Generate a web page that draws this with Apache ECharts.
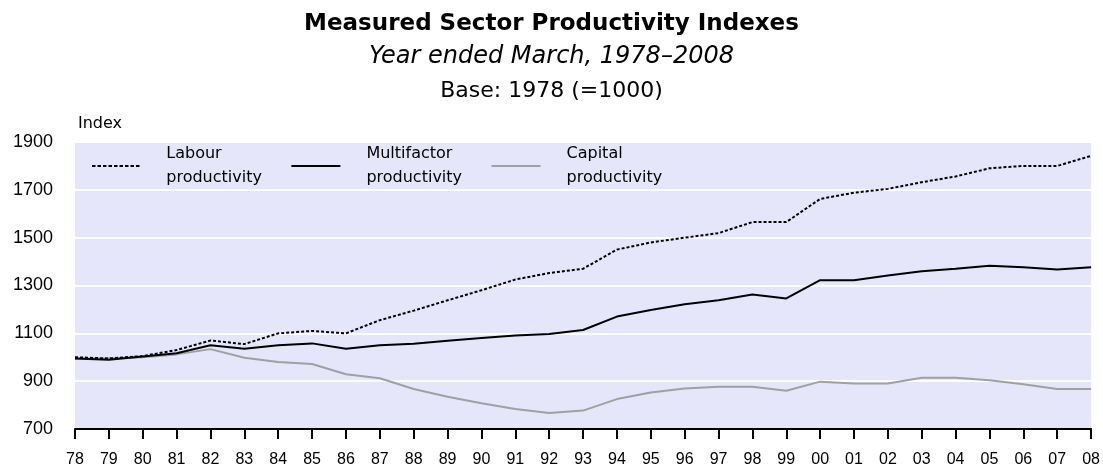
<!DOCTYPE html>
<html>
<head>
<meta charset="utf-8">
<script src="https://cdn.jsdelivr.net/npm/echarts@6/dist/echarts.min.js"></script>
<style>
html,body{margin:0;padding:0;background:#fff;}
#chart{width:1103px;height:468px;}
</style>
</head>
<body>
<div id="chart"></div>
<script>
const years = ['78','79','80','81','82','83','84','85','86','87','88','89','90','91','92','93','94','95','96','97','98','99','00','01','02','03','04','05','06','07','08'];
const labour = [1000,995,1005,1030,1070,1055,1100,1110,1100,1155,1195,1238,1280,1325,1352,1370,1450,1480,1500,1519,1565,1565,1662,1688,1704,1732,1756,1790,1800,1800,1842];
const multifactor = [995,990,1003,1017,1050,1036,1050,1058,1036,1050,1056,1069,1080,1091,1097,1114,1170,1198,1222,1238,1262,1246,1322,1322,1342,1360,1370,1383,1376,1367,1376];
const capital = [995,995,1000,1012,1034,998,980,972,929,912,867,835,808,784,767,777,825,853,869,877,877,860,898,890,890,914,914,904,887,867,867];
const seriesNames = ['Labour\nproductivity','Multifactor\nproductivity','Capital\nproductivity'];
const yTicks = {min:700, max:1900, interval:200};

// legend glyphs: dotted and solid short rules
let dots = '';
for (let i = 0; i < 9; i++) { const x = i * 5.5; dots += 'M' + x + ',0H' + (x + 3.5) + 'V2H' + x + 'Z'; }
const dottedIcon = 'path://' + dots;
const solidIcon = 'path://M0,0H50V2H0Z';

const chart = echarts.init(document.getElementById('chart'));
const sans = 'Liberation Sans, Arial, sans-serif';
const wide = 'DejaVu Sans, Verdana, sans-serif';
chart.setOption({
  animation:false,
  backgroundColor:'#ffffff',
  title:[
    {text:'Measured Sector Productivity Indexes', left:'center', top:8,
     textStyle:{fontFamily:wide, fontSize:23, fontWeight:'bold', color:'#000'}},
    {text:'Year ended March, 1978–2008', left:'center', top:40,
     textStyle:{fontFamily:wide, fontSize:24, fontStyle:'italic', fontWeight:'normal', color:'#000'}},
    {text:'Base: 1978 (=1000)', left:'center', top:75,
     textStyle:{fontFamily:wide, fontSize:22, fontWeight:'normal', color:'#000'}},
    {text:'Index', left:73, top:111,
     textStyle:{fontFamily:wide, fontSize:16, fontWeight:'normal', color:'#000'}}
  ],
  legend:{
    left:92, top:142, padding:0,
    itemWidth:49, itemHeight:2, itemGap:29.5,
    textStyle:{fontFamily:wide, fontSize:16, color:'#000', lineHeight:24, padding:[0,0,0,21]},
    data:[
      {name:seriesNames[0], icon:dottedIcon},
      {name:seriesNames[1], icon:solidIcon},
      {name:seriesNames[2], icon:solidIcon}
    ]
  },
  grid:{left:75, right:11, top:142, bottom:36, show:true, backgroundColor:'#e6e6fa', borderWidth:0},
  xAxis:{
    type:'category', data:years, boundaryGap:false,
    axisLine:{lineStyle:{color:'#000', width:2}},
    axisTick:{show:true, inside:false, length:10, lineStyle:{color:'#000', width:2}},
    axisLabel:{fontFamily:sans, fontSize:16, color:'#000', margin:23, interval:0},
    splitLine:{show:false}
  },
  yAxis:{
    type:'value', min:yTicks.min, max:yTicks.max, interval:yTicks.interval,
    axisLine:{show:false}, axisTick:{show:false},
    axisLabel:{fontFamily:sans, fontSize:18, color:'#000', margin:22, formatter:function(v){return String(v);}},
    splitLine:{show:true, lineStyle:{color:'#ffffff', width:2}}
  },
  series:[
    {name:seriesNames[0], type:'line', data:labour, symbol:'none',
     lineStyle:{color:'#000', width:2, type:[3,2]}, itemStyle:{color:'#000'}, z:3},
    {name:seriesNames[1], type:'line', data:multifactor, symbol:'none',
     lineStyle:{color:'#000', width:2}, itemStyle:{color:'#000'}, z:4},
    {name:seriesNames[2], type:'line', data:capital, symbol:'none',
     lineStyle:{color:'#a0a0a0', width:2}, itemStyle:{color:'#a0a0a0'}, z:2}
  ]
});
</script>
</body>
</html>
